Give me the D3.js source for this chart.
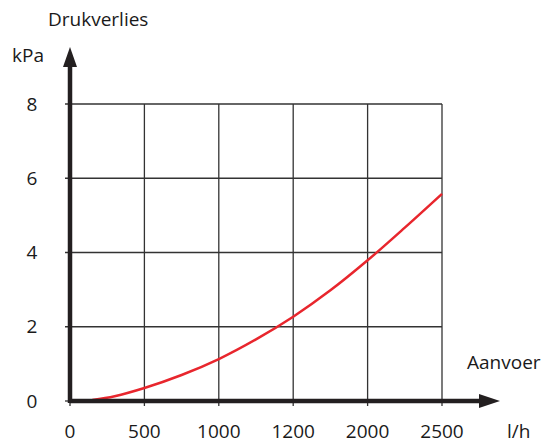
<!DOCTYPE html>
<html>
<head>
<meta charset="utf-8">
<script src="https://cdn.jsdelivr.net/npm/d3@7"></script>
<style>
  body { margin: 0; background: #fff; }
  text { font-family: "Open Sans", "Noto Sans", sans-serif; fill: #1a1a1a; }
</style>
</head>
<body>
<svg id="chart" width="554" height="443"></svg>
<script>
// flow (l/h) and pressure loss (kPa)
var flow = [150, 300, 500, 750, 1000, 1250, 1500, 1750, 2000, 2250, 2500],
    kpa  = [0.03, 0.13, 0.35, 0.7, 1.13, 1.66, 2.27, 2.98, 3.79, 4.67, 5.58];

var xTicks = [0, 500, 1000, 1500, 2000, 2500],
    xTickLabels = ["0", "500", "1000", "1200", "2000", "2500"], // as printed on the original
    yTicks = [0, 2, 4, 6, 8];

var svg = d3.select('#chart'),
    axisColor = "#231f20";

var x = d3.scaleLinear().domain([0, 2500]).range([70, 442]),
    y = d3.scaleLinear().domain([0, 8]).range([401, 104]);

// grid
var grid = svg.append("g").attr("stroke", "#333").attr("stroke-width", 1.3);

grid.selectAll("line.v").data(xTicks.slice(1)).enter().append("line")
    .attr("x1", function(d){ return x(d); }).attr("x2", function(d){ return x(d); })
    .attr("y1", y(8)).attr("y2", y(0) + 5);

grid.selectAll("line.h").data(yTicks.slice(1)).enter().append("line")
    .attr("y1", function(d){ return y(d); }).attr("y2", function(d){ return y(d); })
    .attr("x1", x(0) - 5).attr("x2", x(2500));

// small tick stubs at the origin
grid.append("line").attr("x1", x(0)).attr("x2", x(0)).attr("y1", y(0)).attr("y2", y(0) + 5);
grid.append("line").attr("x1", x(0) - 5).attr("x2", x(0)).attr("y1", y(0)).attr("y2", y(0));

// curve
var line = d3.line()
    .x(function(d, i){ return x(flow[i]); })
    .y(function(d){ return y(d); })
    .curve(d3.curveCatmullRom);

svg.append("path")
    .datum(kpa)
    .attr("d", line)
    .attr("fill", "none")
    .attr("stroke", "#e8262d")
    .attr("stroke-width", 2.5);

// axes with arrows
svg.append("line").attr("x1", x(0)).attr("x2", 482).attr("y1", y(0)).attr("y2", y(0))
    .attr("stroke", axisColor).attr("stroke-width", 4.5);
svg.append("path").attr("d", "M500," + y(0) + "L479," + (y(0) - 7) + "L479," + (y(0) + 7) + "Z")
    .attr("fill", axisColor);

svg.append("line").attr("x1", x(0)).attr("x2", x(0)).attr("y1", y(0) + 2).attr("y2", 64)
    .attr("stroke", axisColor).attr("stroke-width", 4.5);
svg.append("path").attr("d", "M" + x(0) + ",47L" + (x(0) - 7) + ",67L" + (x(0) + 7) + ",67Z")
    .attr("fill", axisColor);

// tick labels
svg.selectAll("text.xt").data(xTicks).enter().append("text")
    .attr("x", function(d){ return x(d); })
    .attr("y", 438)
    .attr("text-anchor", "middle")
    .attr("font-size", 19)
    .text(function(d, i){ return xTickLabels[i]; });

svg.selectAll("text.yt").data(yTicks).enter().append("text")
    .attr("x", 32)
    .attr("y", function(d){ return y(d); })
    .attr("dy", "0.35em")
    .attr("text-anchor", "middle")
    .attr("font-size", 19)
    .text(function(d){ return d; });

// axis titles
svg.append("text").attr("x", 48).attr("y", 26).attr("font-size", 19).text("Drukverlies");
svg.append("text").attr("x", 12).attr("y", 62).attr("font-size", 19).text("kPa");
svg.append("text").attr("x", 467).attr("y", 369).attr("font-size", 19).text("Aanvoer");
svg.append("text").attr("x", 507).attr("y", 438).attr("font-size", 19).text("l/h");
</script>
</body>
</html>
